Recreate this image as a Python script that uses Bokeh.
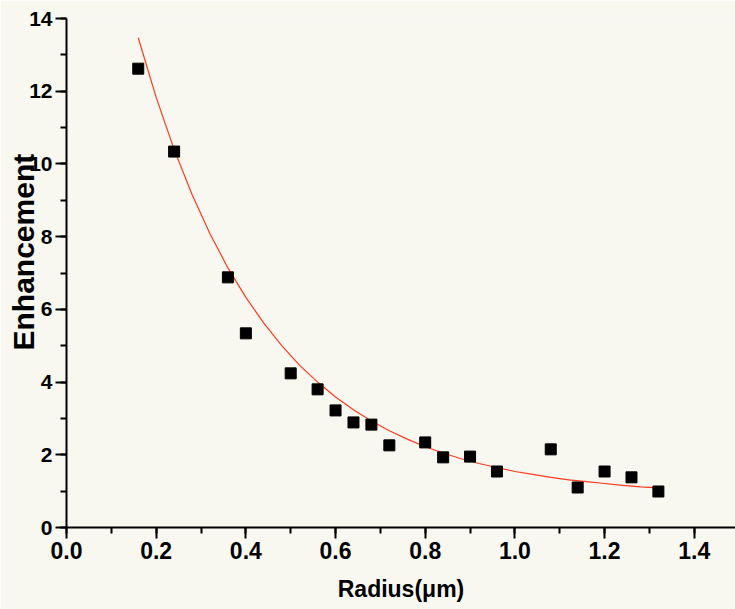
from bokeh.plotting import figure
from bokeh.models import (ColumnDataSource, Range1d, SingleIntervalTicker,
                          NumeralTickFormatter)
from bokeh.embed import file_html
from bokeh.resources import INLINE

# Measured data points
radius = [0.16, 0.24, 0.36, 0.40, 0.50, 0.56, 0.60, 0.64, 0.68, 0.72,
          0.80, 0.84, 0.90, 0.96, 1.08, 1.14, 1.20, 1.26, 1.32]
enhancement = [12.62, 10.34, 6.88, 5.34, 4.24, 3.80, 3.22, 2.89, 2.83, 2.26,
               2.34, 1.93, 1.95, 1.54, 2.15, 1.10, 1.54, 1.38, 0.99]

# Fitted curve
fit_x = [0.16, 0.20, 0.24, 0.28, 0.32, 0.36, 0.40, 0.44, 0.48, 0.52,
         0.56, 0.60, 0.64, 0.68, 0.72, 0.76, 0.80, 0.84, 0.88, 0.92,
         0.96, 1.00, 1.04, 1.08, 1.12, 1.16, 1.20, 1.24, 1.28, 1.32]
fit_y = [13.47, 11.83, 10.40, 9.16, 8.08, 7.14, 6.33, 5.62, 5.00, 4.46,
         4.00, 3.59, 3.24, 2.93, 2.66, 2.43, 2.22, 2.05, 1.89, 1.76,
         1.65, 1.54, 1.46, 1.38, 1.31, 1.26, 1.21, 1.16, 1.12, 1.09]

x_label = "Radius(\u03bcm)"
y_label = "Enhancement"

BG = "#F8F8F1"
FONT = "Liberation Sans"
NARROW = "Liberation Sans Narrow, Liberation Sans"
W, H = 735, 609

p = figure(width=W, height=H, output_backend="svg", toolbar_location=None,
           x_range=Range1d(0, 1.492), y_range=Range1d(0, 14),
           min_border_left=66, min_border_right=0, min_border_top=18,
           min_border_bottom=82)
p.background_fill_color = BG
p.border_fill_color = BG
p.outline_line_color = None
p.grid.visible = False

p.line(fit_x, fit_y, line_color="#FF3A1E", line_width=1.2)
src = ColumnDataSource(dict(x=radius, y=enhancement))
p.scatter("x", "y", source=src, marker="square", size=11,
          fill_color="black", line_color="black")

for ax in (p.xaxis[0], p.yaxis[0]):
    ax.axis_line_width = 2
    ax.axis_line_color = "black"
    ax.major_tick_line_width = 2
    ax.minor_tick_line_width = 2
    ax.major_tick_in = 0
    ax.minor_tick_in = 0
    ax.major_tick_out = 11
    ax.minor_tick_out = 6
    ax.major_label_text_font_style = "bold"
    ax.major_label_text_color = "black"
    ax.axis_label_text_font = FONT
    ax.axis_label_text_font_style = "bold"
    ax.axis_label_text_color = "black"

p.xaxis[0].major_label_text_font = NARROW
p.xaxis[0].major_label_text_font_size = "23px"
p.yaxis[0].major_label_text_font = FONT
p.yaxis[0].major_label_text_font_size = "21px"

p.xaxis[0].ticker = SingleIntervalTicker(interval=0.2, num_minor_ticks=2)
p.xaxis[0].formatter = NumeralTickFormatter(format="0.0")
p.xaxis[0].major_label_standoff = 3
p.yaxis[0].ticker = SingleIntervalTicker(interval=2, num_minor_ticks=2)
p.yaxis[0].major_label_standoff = 3

p.xaxis[0].axis_label = x_label
p.xaxis[0].axis_label_text_font_size = "23px"
p.xaxis[0].axis_label_standoff = 14

# non-breaking spaces shift the centred label upwards, as in the original
p.yaxis[0].axis_label = "\u00a0" * 5 + y_label
p.yaxis[0].axis_label_text_font_size = "30px"
p.yaxis[0].axis_label_standoff = -14

open("out.html", "w").write(file_html(p, INLINE))
